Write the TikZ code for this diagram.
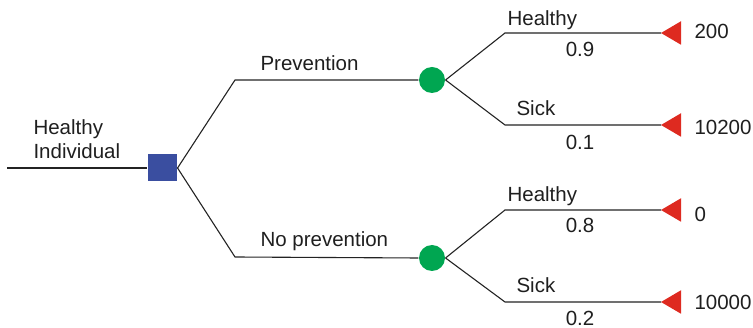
\documentclass[tikz,border=0pt]{standalone}
\usepackage{fontspec}
\setmainfont{Liberation Sans}
\definecolor{decblue}{RGB}{58,78,160}
\definecolor{chgreen}{RGB}{0,166,81}
\definecolor{endred}{RGB}{222,42,32}
\definecolor{linegray}{RGB}{35,35,35}
\begin{document}
\begin{tikzpicture}[x=1pt,y=-1pt,line width=1.1pt,
  conn/.style={draw=linegray},
  txt/.style={inner sep=0pt,font=\fontsize{20.5}{24.5}\selectfont,text=black!88},
  decision/.style={draw=none,fill=decblue,minimum width=29pt,minimum height=27pt,inner sep=0pt},
  chance/.style={circle,fill=chgreen,minimum size=26pt,inner sep=0pt},
  terminal/.style={fill=endred}]
\useasboundingbox (0,0) rectangle (753,328);
\coordinate (start) at (7,168);
\node[decision] (dec) at (162.5,168) {};
\coordinate (pA) at (235,80);
\coordinate (pB) at (235,257);
\node[chance] (c1) at (432,80) {};
\node[chance] (c2) at (432,258) {};
\coordinate (h1) at (505,33);
\coordinate (s1) at (505,125);
\coordinate (h2) at (505,210);
\coordinate (s2) at (505,302);
\coordinate (t1) at (661,33);
\coordinate (t2) at (661,125);
\coordinate (t3) at (661,210);
\coordinate (t4) at (661,302);
\foreach \t in {t1,t2,t3,t4}
  \fill[terminal] (\t) -- ++(20,-11.75) -- ++(0,23.5) -- cycle;
\draw[conn] (start) -- (dec.west);
\draw[conn] (dec.east) -- (pA) -- (c1.west);
\draw[conn] (dec.east) -- (pB) -- (c2.west);
\draw[conn] (c1.east) -- (h1) -- (t1);
\draw[conn] (c1.east) -- (s1) -- (t2);
\draw[conn] (c2.east) -- (h2) -- (t3);
\draw[conn] (c2.east) -- (s2) -- (t4);
\node[txt,anchor=base west,align=left] (root) at (33,159) {Healthy\\Individual};
\node[txt,anchor=base west] (lp) at (260,71) {Prevention};
\node[txt,anchor=base west] (lnp) at (260,246.5) {No prevention};
\node[txt,anchor=base west] (lh1) at (507,26) {Healthy};
\node[txt,anchor=base] (p1) at (580,57) {0.9};
\node[txt,anchor=base west] (ls1) at (516,116) {Sick};
\node[txt,anchor=base] (p2) at (580,150) {0.1};
\node[txt,anchor=base west] (lh2) at (507,202) {Healthy};
\node[txt,anchor=base] (p3) at (580,233) {0.8};
\node[txt,anchor=base west] (ls2) at (516,293) {Sick};
\node[txt,anchor=base] (p4) at (580,326) {0.2};
\node[txt,anchor=base west] (v1) at (694,39) {200};
\node[txt,anchor=base west] (v2) at (694,135) {10200};
\node[txt,anchor=base west] (v3) at (694,222) {0};
\node[txt,anchor=base west] (v4) at (694,310) {10000};
\end{tikzpicture}
\end{document}
